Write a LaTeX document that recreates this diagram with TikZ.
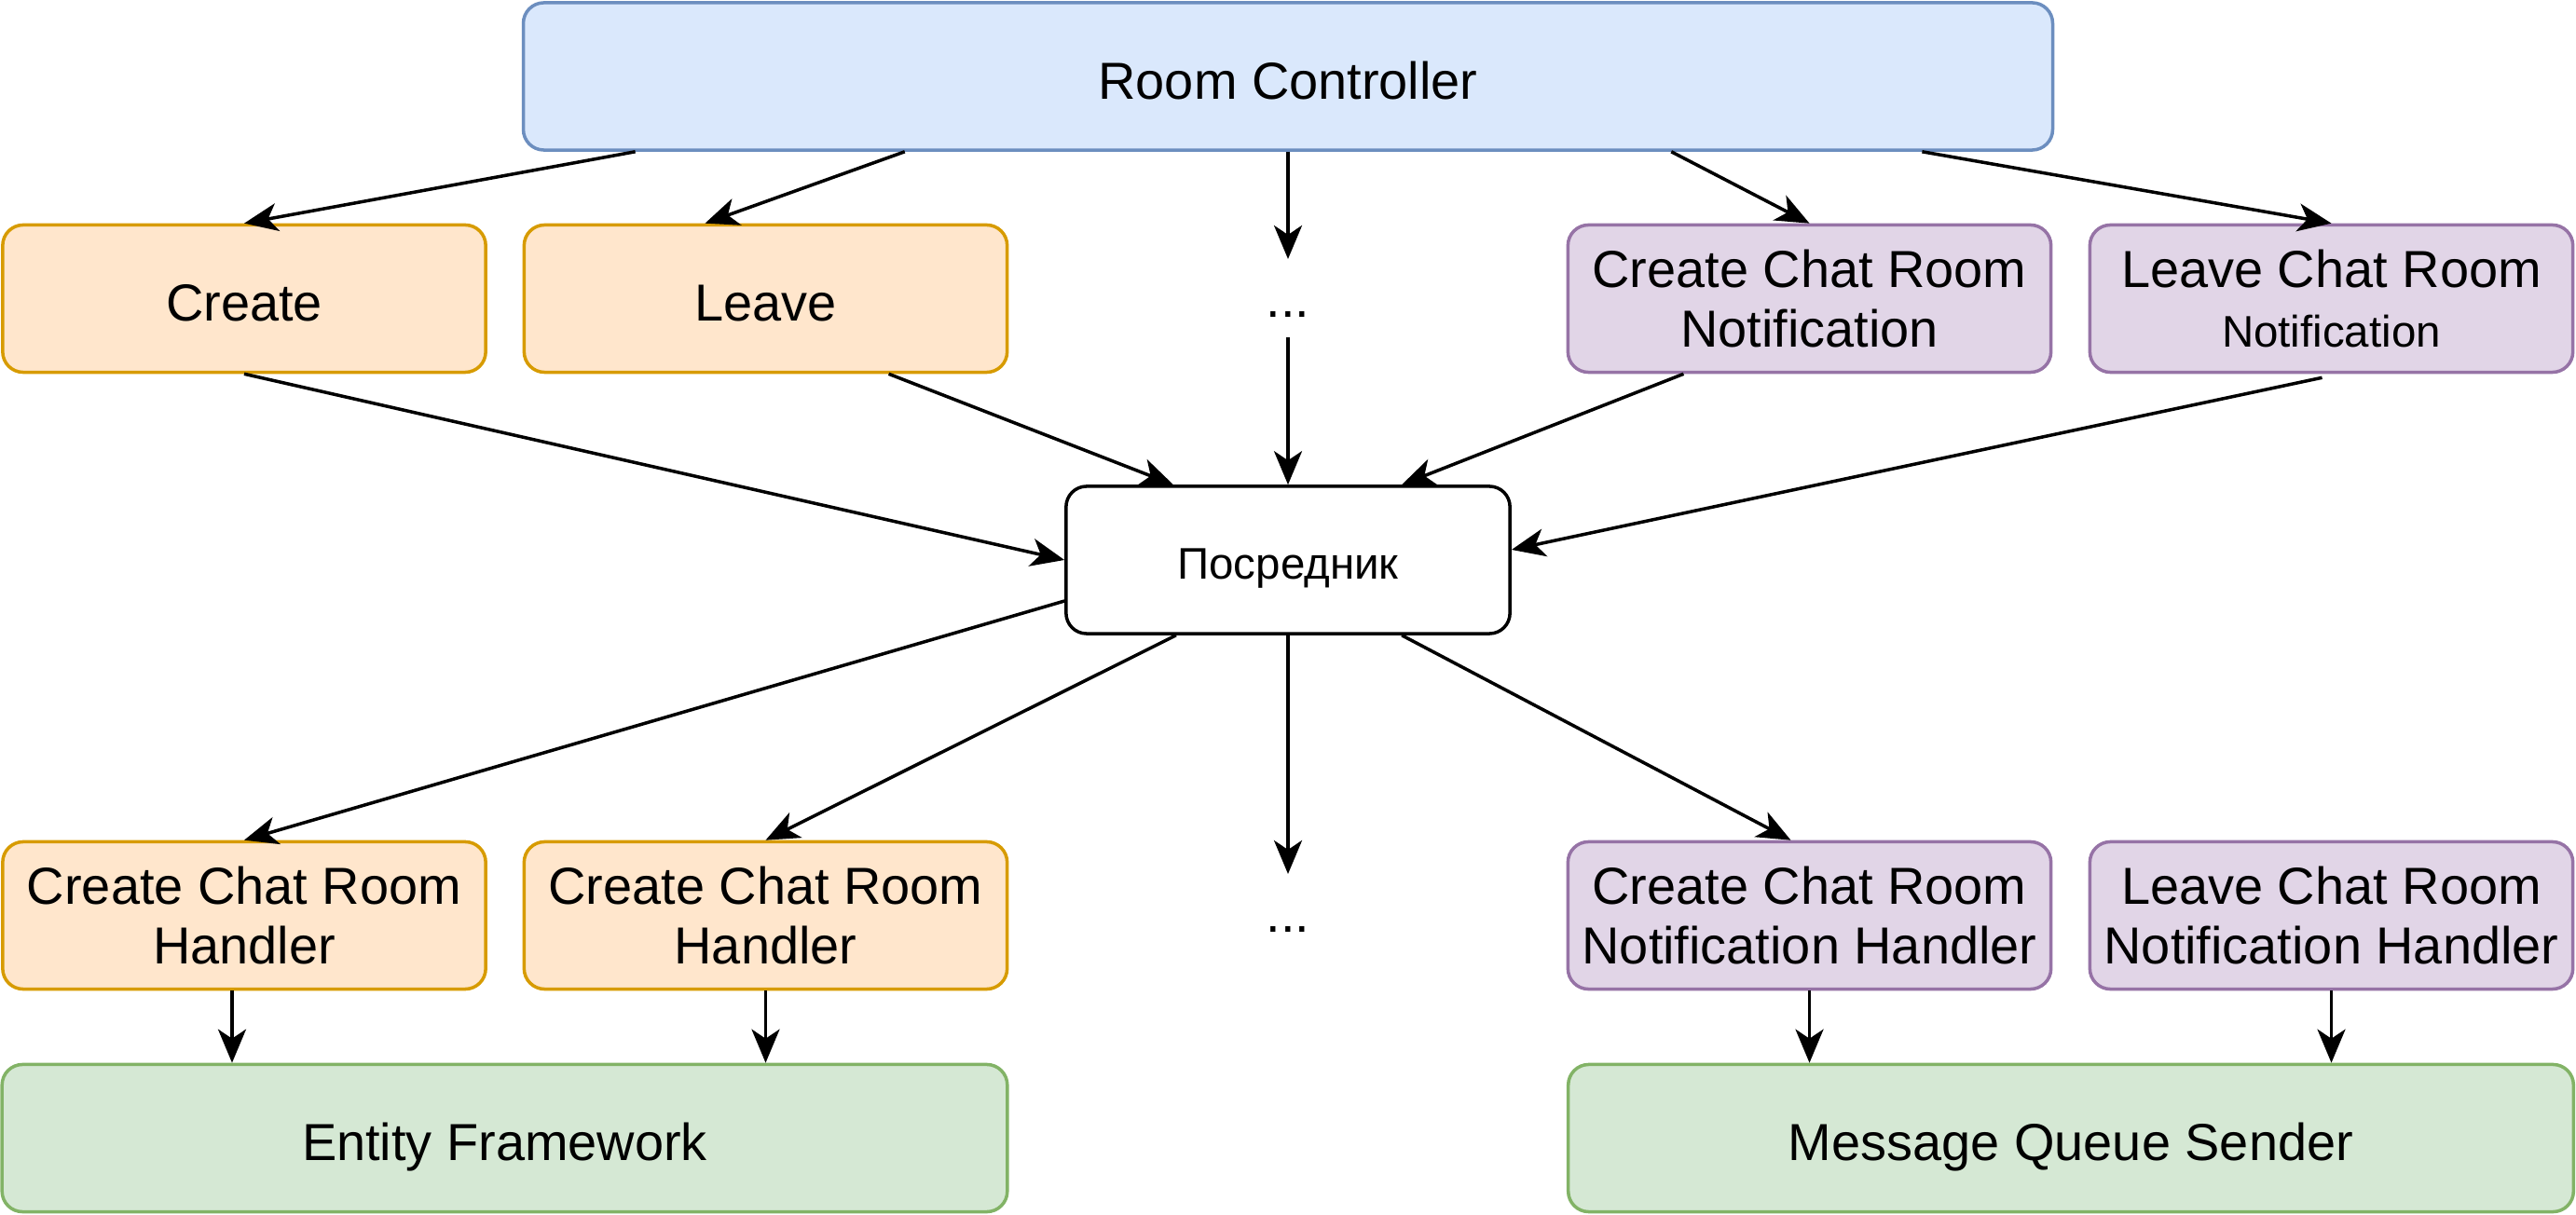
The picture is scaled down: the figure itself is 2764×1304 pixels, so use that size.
\documentclass[tikz,border=0pt]{standalone}
\usepackage{fontspec}
\setmainfont{Liberation Sans}
\usetikzlibrary{arrows.meta}
\definecolor{bfill}{HTML}{DAE8FC}\definecolor{bdraw}{HTML}{6C8EBF}
\definecolor{ofill}{HTML}{FFE6CC}\definecolor{odraw}{HTML}{D79B00}
\definecolor{pfill}{HTML}{E1D5E7}\definecolor{pdraw}{HTML}{9673A6}
\definecolor{gfill}{HTML}{D5E8D4}\definecolor{gdraw}{HTML}{82B366}
\begin{document}
\begin{tikzpicture}[x=0.01cm,y=-0.01cm,
  box/.style={rectangle, rounded corners=0.22cm, line width=1pt, minimum height=1.58cm,
    align=center, inner sep=0pt, font=\fontsize{15.9}{18}\selectfont},
  oneline/.style={text height=0.52cm, text depth=0.04cm},
  small/.style={box, minimum width=5.18cm},
  wide/.style={box, minimum width=10.78cm},
  orange/.style={fill=ofill, draw=odraw},
  purple/.style={fill=pfill, draw=pdraw},
  blue/.style={fill=bfill, draw=bdraw},
  green/.style={fill=gfill, draw=gdraw},
  dotsnode/.style={anchor=north, inner sep=0pt, minimum width=0.6cm, font=\fontsize{15.9}{18}\selectfont, text height=0.62cm, text depth=0.21cm},
  arr/.style={-{Stealth[length=0.36cm,width=0.3cm,inset=0.1cm]}, line width=1pt},
]
\useasboundingbox (0,0) rectangle (2764,1304);

\node[box, blue, oneline, minimum width=16.4cm] (rc) at (1382,82) {Room Controller};

\node[small, orange, oneline] (create) at (262,320.5) {Create};
\node[small, orange, oneline] (leave) at (821.5,320.5) {Leave};
\node[dotsnode] (dots1) at (1382,278) {...};
\node[small, purple] (ccrn) at (1941.5,320.5) {Create Chat Room\\Notification};
\node[small, purple] (lcrn) at (2501.5,320.5) {Leave Chat Room\\{\fontsize{13.5}{16}\selectfont Notification}};

\node[box, draw=black, fill=white, minimum width=4.76cm, text height=0.48cm, text depth=0.07cm, font=\fontsize{13.5}{16}\selectfont] (med) at (1382,601) {Посредник};

\node[small, orange] (h1) at (262,982.5) {Create Chat Room\\Handler};
\node[small, orange] (h2) at (821.5,982.5) {Create Chat Room\\Handler};
\node[dotsnode] (dots2) at (1382,938) {...};
\node[small, purple] (h3) at (1941.5,982.5) {Create Chat Room\\Notification Handler};
\node[small, purple] (h4) at (2501.5,982.5) {Leave Chat Room\\Notification Handler};

\node[wide, green, oneline] (ef) at (541.5,1221.5) {Entity Framework};
\node[wide, green, oneline] (mq) at (2222,1221.5) {Message Queue Sender};

% Room Controller -> first row
\draw[arr] ([xshift=-7cm]rc.south) -- (create.north);
\draw[arr] ([xshift=-4.11cm]rc.south) -- ([xshift=-0.65cm]leave.north);
\draw[arr] (rc.south) -- (dots1.north);
\draw[arr] ([xshift=4.11cm]rc.south) -- (ccrn.north);
\draw[arr] ([xshift=6.8cm]rc.south) -- (lcrn.north);

% first row -> mediator
\draw[arr] (create.south) -- (med.west);
\draw[arr] ([xshift=1.32cm]leave.south) -- ([xshift=-1.23cm]med.north);
\draw[arr] (dots1.south) -- (med.north);
\draw[arr] ([xshift=-1.35cm]ccrn.south) -- ([xshift=1.22cm]med.north);
\draw[arr] ([xshift=-0.1cm,yshift=-0.04cm]lcrn.south) -- ([yshift=0.11cm]med.east);

% mediator -> handlers
\draw[arr] ([yshift=-0.44cm]med.west) -- (h1.north);
\draw[arr] ([xshift=-1.2cm]med.south) -- (h2.north);
\draw[arr] (med.south) -- (dots2.north);
\draw[arr] ([xshift=1.22cm]med.south) -- ([xshift=-0.2cm]h3.north);

% handlers -> back ends
\draw[arr] ([xshift=-0.13cm]h1.south) -- ([xshift=-0.13cm]h1.south |- ef.north);
\draw[arr] (h2.south) -- (h2.south |- ef.north);
\draw[arr] (h3.south) -- (h3.south |- mq.north);
\draw[arr] (h4.south) -- (h4.south |- mq.north);
\end{tikzpicture}
\end{document}
